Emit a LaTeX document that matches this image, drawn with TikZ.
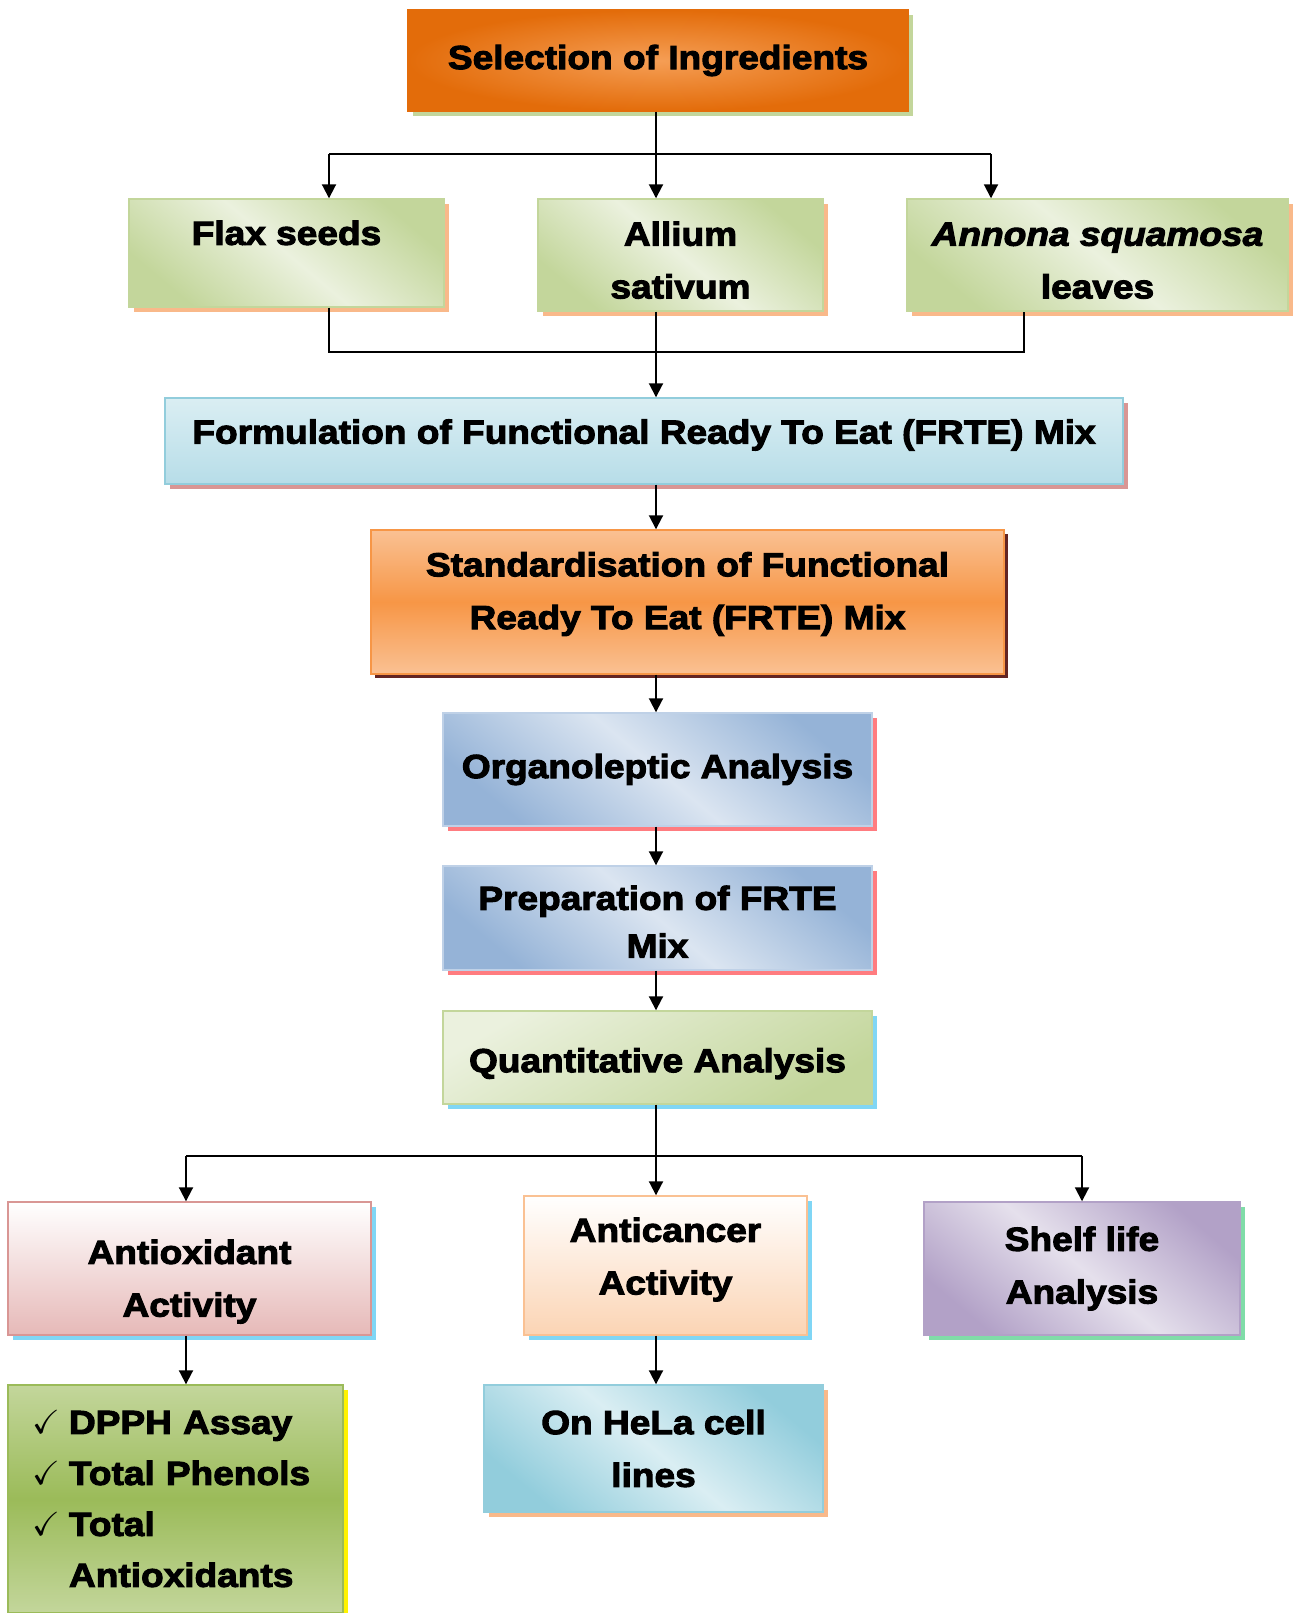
\documentclass[tikz,border=0pt]{standalone}
\usepackage{amssymb}
\usepackage{fontspec}
\setmainfont{Liberation Sans}[BoldFeatures={FakeBold=3,FakeStretch=1.11},BoldItalicFeatures={FakeBold=3,FakeStretch=1.11}]
\usepackage{tikz}
\usetikzlibrary{arrows.meta,shadows}

\definecolor{orD}{HTML}{E36C0A}
\definecolor{orL}{HTML}{F59E55}
\definecolor{grD}{HTML}{C3D69B}
\definecolor{grL}{HTML}{EBF1DE}
\definecolor{peach}{HTML}{F9B98A}
\definecolor{cyD}{HTML}{B7DDE8}
\definecolor{cyL}{HTML}{DAEEF3}
\definecolor{rose}{HTML}{D99694}
\definecolor{stD}{HTML}{F79646}
\definecolor{stL}{HTML}{FAC193}
\definecolor{brown}{HTML}{632523}
\definecolor{blD}{HTML}{95B3D7}
\definecolor{blL}{HTML}{DBE5F1}
\definecolor{salmon}{HTML}{FF7C80}
\definecolor{sky}{HTML}{80D6F5}
\definecolor{pinkD}{HTML}{E6B9B8}
\definecolor{apri}{HTML}{FBD4B4}
\definecolor{puD}{HTML}{B2A1C7}
\definecolor{puL}{HTML}{E5E0EC}
\definecolor{mint}{HTML}{80DCA8}
\definecolor{olive}{HTML}{9BBB59}
\definecolor{teal}{HTML}{92CDDC}

\newcommand{\chkmk}{\makebox[7.2mm][l]{$\checkmark$}}
\newcommand{\lift}[1]{\rule{0pt}{#1}}

\begin{document}
\begin{tikzpicture}[x=0.2mm,y=-0.2mm,
    box/.style={draw,line width=0.8pt,inner sep=1pt,align=center,
        font=\bfseries\fontsize{19}{30}\selectfont},
    tdown/.style={execute at begin node={\rule{0pt}{#1}}},
    tup/.style={execute at end node={\rule[-#1]{0pt}{0pt}}},
    selbox/.style={box,draw=orD,shading=radial,inner color=orL,outer color=orD,
        general shadow={shadow xshift=1mm,shadow yshift=-1mm,fill=grD}},
    greenbox/.style={box,draw=grD,top color=grD,bottom color=grD,middle color=grL,shading angle=-40,
        general shadow={shadow xshift=1mm,shadow yshift=-1mm,fill=peach}},
    formbox/.style={box,draw=teal,top color=cyL,bottom color=cyD,
        general shadow={shadow xshift=1mm,shadow yshift=-1mm,fill=rose}},
    stdbox/.style={box,draw=stD,top color=stL,bottom color=stL,middle color=stD,
        general shadow={shadow xshift=0.8mm,shadow yshift=-0.8mm,fill=brown}},
    bluebox/.style={box,draw=blL!60!blD,top color=blD,bottom color=blD,middle color=blL,shading angle=-40,
        general shadow={shadow xshift=1mm,shadow yshift=-1mm,fill=salmon}},
    quantbox/.style={box,draw=grD,top color=grL,bottom color=grD,shading angle=30,
        general shadow={shadow xshift=1mm,shadow yshift=-1mm,fill=sky}},
    antibox/.style={box,draw=rose,top color=white,bottom color=pinkD,
        general shadow={shadow xshift=1mm,shadow yshift=-1mm,fill=sky}},
    cancerbox/.style={box,draw=stL,top color=white,bottom color=apri,
        general shadow={shadow xshift=1mm,shadow yshift=-1mm,fill=sky}},
    shelfbox/.style={box,draw=puD,top color=puD,bottom color=puD,middle color=puL,shading angle=-40,
        general shadow={shadow xshift=1mm,shadow yshift=-1mm,fill=mint}},
    listbox/.style={box,draw=olive,top color=grD,bottom color=grD,middle color=olive,
        align=left,inner xsep=5mm,text width=57mm,
        font=\bfseries\fontsize{19}{29}\selectfont,
        general shadow={shadow xshift=1mm,shadow yshift=-1mm,fill=yellow}},
    helabox/.style={box,draw=teal,top color=teal,bottom color=teal,middle color=cyL,shading angle=-40,
        general shadow={shadow xshift=1mm,shadow yshift=-1mm,fill=peach}},
    arr/.style={-{Triangle[length=2.8mm,width=2.8mm]},line width=1.1pt}]

    \useasboundingbox (0,0) rectangle (1296,1613);

    % boxes
    \node[selbox,minimum width=100mm,minimum height=20.2mm] (sel) at (658,60.5) {Selection of Ingredients};

    \node[greenbox,minimum width=63mm,minimum height=21.6mm] (flax) at (286.5,253) {\lift{20.7pt}Flax seeds\\~};
    \node[greenbox,minimum width=57mm,minimum height=22.4mm] (allium) at (680.5,255) {\lift{19.6pt}Allium\\sativum};
    \node[greenbox,minimum width=76.2mm,minimum height=22.4mm] (annona) at (1097.5,255) {\lift{19.6pt}\textit{Annona squamosa}\\leaves};

    \node[formbox,tup=10.8pt,minimum width=191.6mm,minimum height=17.2mm] (formul) at (644,441) {Formulation of Functional Ready To Eat (FRTE) Mix};
    \node[stdbox,tup=13pt,minimum width=126.6mm,minimum height=28.8mm] (stand) at (687.5,602) {Standardisation of Functional\\Ready To Eat (FRTE) Mix};
    \node[bluebox,minimum width=85.8mm,minimum height=22.6mm] (organo) at (657.5,769.5) {Organoleptic Analysis};
    \node[bluebox,minimum width=85.8mm,minimum height=20.8mm] (prep) at (657.5,918) {\lift{17.9pt}Preparation of FRTE\\[-1mm]Mix};
    \node[quantbox,tdown=20.7pt,minimum width=85.8mm,minimum height=18.6mm] (quant) at (657.5,1057.5) {Quantitative Analysis};

    \node[antibox,minimum width=72.6mm,minimum height=26.6mm] (antiox) at (189.5,1268.5) {\lift{28.7pt}Antioxidant\\Activity};
    \node[cancerbox,tup=10.8pt,minimum width=56.6mm,minimum height=27.8mm] (cancer) at (665.5,1265.5) {Anticancer\\Activity};
    \node[shelfbox,minimum width=63.2mm,minimum height=26.6mm] (shelf) at (1082,1268.5) {Shelf life\\Analysis};

    \node[listbox,minimum height=45.6mm] (tests) at (175.5,1499) {\chkmk DPPH Assay\\\chkmk Total Phenols\\\chkmk Total\\\hspace*{7.2mm}Antioxidants};
    \node[helabox,minimum width=67.8mm,minimum height=25.4mm] (hela) at (653.5,1448.5) {On HeLa cell\\lines};

    % connectors
    \coordinate (spine) at (656,0);
    \coordinate (jt1) at (329,154);
    \coordinate (jt2) at (991,154);
    \draw[line width=1.1pt] (jt1) -- (jt2);
    \draw[arr] (jt1) -- (jt1 |- flax.north);
    \draw[arr] (jt2) -- (jt2 |- annona.north);
    \draw[arr] (spine |- sel.south) -- (spine |- allium.north);

    \coordinate (jb1) at (329,352);
    \coordinate (jb2) at (1024,352);
    \draw[line width=1.1pt] (jb1 |- flax.south) -- (jb1) -- (jb2) -- (jb2 |- annona.south);
    \draw[arr] (spine |- allium.south) -- (spine |- formul.north);
    \draw[arr] (spine |- formul.south) -- (spine |- stand.north);
    \draw[arr] (spine |- stand.south) -- (spine |- organo.north);
    \draw[arr] (spine |- organo.south) -- (spine |- prep.north);
    \draw[arr] (spine |- prep.south) -- (spine |- quant.north);

    \coordinate (jq1) at (186,1156);
    \coordinate (jq2) at (1082,1156);
    \draw[line width=1.1pt] (jq1) -- (jq2);
    \draw[arr] (jq1) -- (jq1 |- antiox.north);
    \draw[arr] (jq2) -- (shelf.north);
    \draw[arr] (spine |- quant.south) -- (spine |- cancer.north);
    \draw[arr] (jq1 |- antiox.south) -- (jq1 |- tests.north);
    \draw[arr] (spine |- cancer.south) -- (spine |- hela.north);
\end{tikzpicture}
\end{document}
